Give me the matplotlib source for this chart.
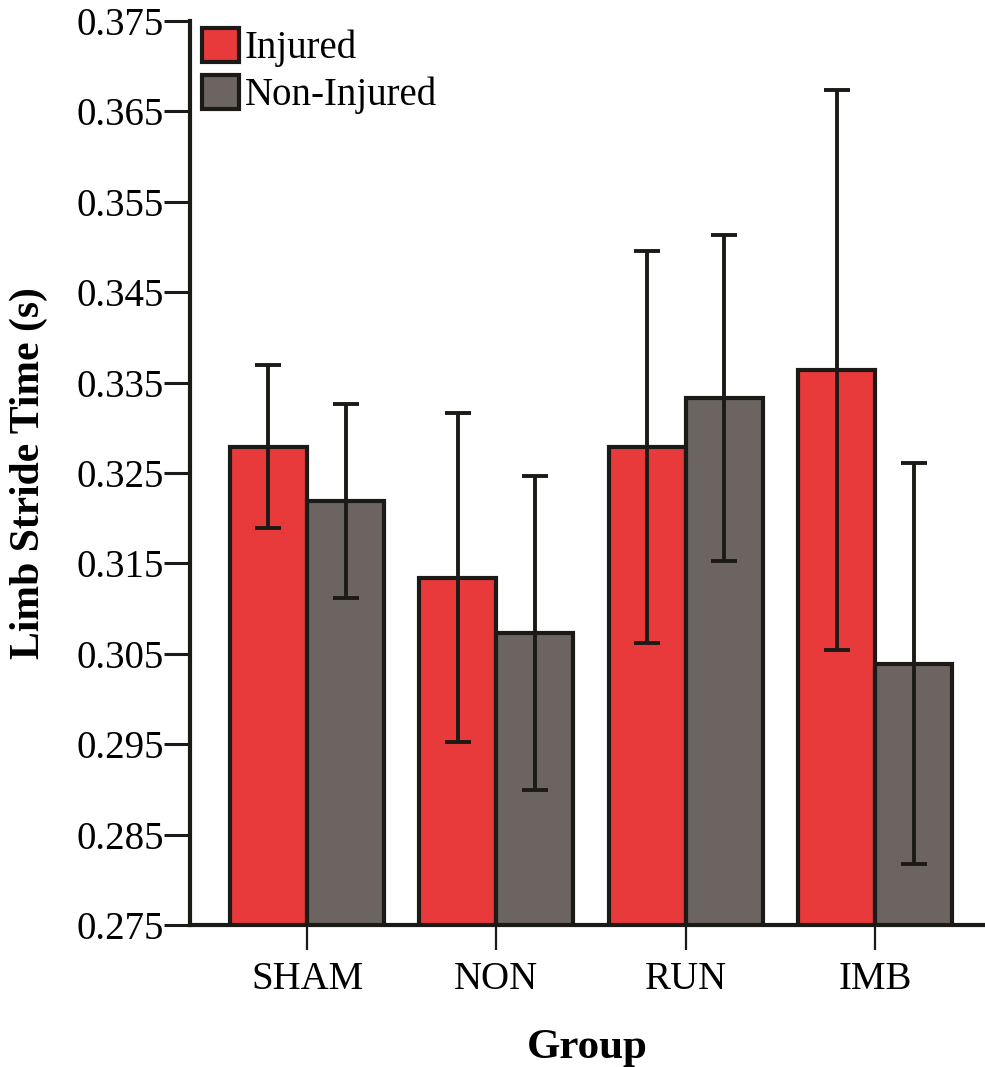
import numpy as np
import matplotlib
matplotlib.use("Agg")
import matplotlib.pyplot as plt

plt.rcParams['font.family'] = ['Liberation Serif', 'DejaVu Serif']

# limb stride time (s), mean and error per group
groups = ['SHAM', 'NON', 'RUN', 'IMB']
injured = [0.3279, 0.3134, 0.3279, 0.3364]
injured_err = [0.0090, 0.0182, 0.0217, 0.0310]
non_injured = [0.3219, 0.3073, 0.3333, 0.3039]
non_injured_err = [0.0107, 0.0174, 0.0180, 0.0222]
yticks = [0.275, 0.285, 0.295, 0.305, 0.315, 0.325, 0.335, 0.345, 0.355, 0.365, 0.375]

red = '#E83A3B'
gray = '#6B6460'
edge = '#1C1A17'

fig = plt.figure(figsize=(9.85, 10.67), dpi=100)
ax = fig.add_axes([190/985, 142/1067, 795/985, 904/1067])

x = np.arange(len(groups))
w = 0.407
err_kw = dict(ecolor=edge, elinewidth=2.8, capsize=9.5, capthick=2.8)
ax.bar(x - w/2, injured, w, yerr=injured_err, color=red, edgecolor=edge,
       linewidth=3, label='Injured', error_kw=err_kw)
ax.bar(x + w/2, non_injured, w, yerr=non_injured_err, color=gray, edgecolor=edge,
       linewidth=3, label='Non-Injured', error_kw=err_kw)

ax.set_ylim(0.275, 0.375)
ax.set_xlim(-0.618, 3.58)
ax.set_yticks(yticks)
ax.set_yticklabels([f'{v:.3f}' for v in yticks])
ax.set_xticks(x)
ax.set_xticklabels(groups)

for s in ['top', 'right']:
    ax.spines[s].set_visible(False)
for s in ['left', 'bottom']:
    ax.spines[s].set_linewidth(3)
    ax.spines[s].set_color(edge)

ax.tick_params(axis='y', direction='out', length=19, width=2.2, color=edge,
               labelsize=28, pad=0)
ax.tick_params(axis='x', direction='out', length=18, width=1.6, color=edge,
               labelsize=28, pad=8)

ax.set_ylabel('Limb Stride Time (s)', fontsize=30, fontweight='bold', labelpad=20)
ax.set_xlabel('Group', fontsize=31, fontweight='bold', labelpad=22)

leg = ax.legend(loc='upper left', bbox_to_anchor=(0.0, 1.005), fontsize=28,
                frameon=False, handlelength=0.95, handleheight=0.95,
                handletextpad=0.15, labelspacing=0.2, borderaxespad=0.2,
                borderpad=0.1)
for h in leg.legend_handles:
    h.set_edgecolor(edge)
    h.set_linewidth(3)

fig.savefig('out.png', dpi=100)
